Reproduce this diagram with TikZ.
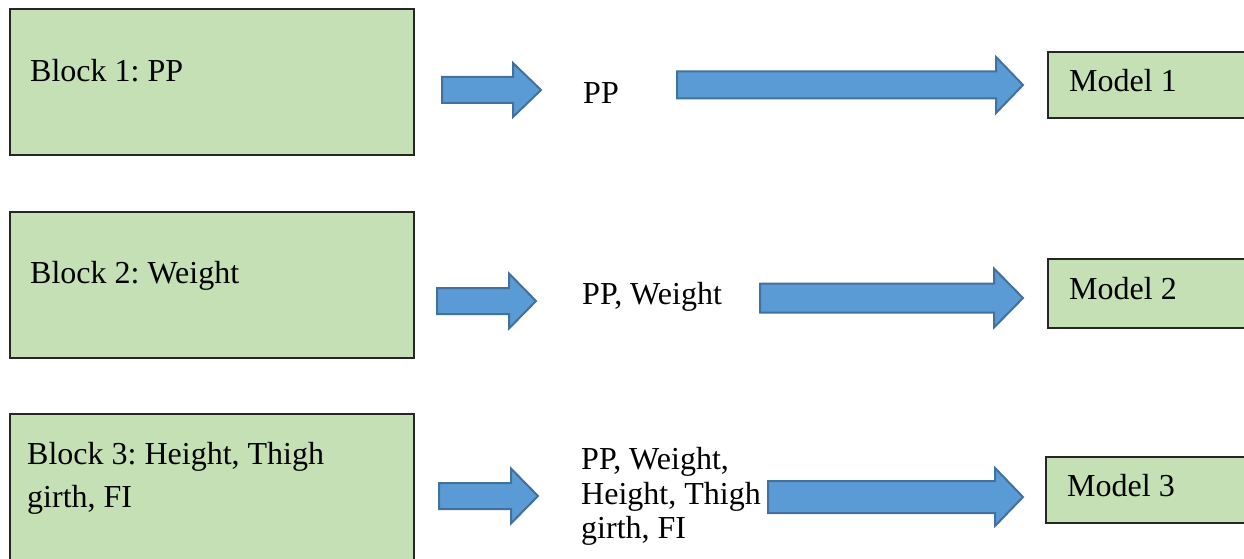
\documentclass[tikz,border=0pt]{standalone}
\usepackage{fontspec}
\setmainfont{Liberation Serif}
\frenchspacing

\definecolor{boxgreen}{HTML}{C5E0B4}
\definecolor{boxline}{HTML}{262626}
\definecolor{arrowfill}{HTML}{5B9BD5}
\definecolor{arrowline}{HTML}{41719C}

\tikzset{
  greenbox/.style={draw=boxline, line width=1.2pt, fill=boxgreen,
    inner sep=0pt, outer sep=0pt, anchor=north west},
  label/.style={inner sep=0pt, anchor=base west,
    font=\rmfamily\fontsize{32pt}{37pt}\selectfont},
  arrowshape/.style={draw=arrowline, line width=2pt, fill=arrowfill,
    line join=miter}
}

% block arrow: left x, tip x, centre y, shaft half-height, head half-height, head length
\newcommand\flatarrow[6]{%
  \draw[arrowshape] (#1,#3-#4) -- (#2-#6,#3-#4) -- (#2-#6,#3-#5) -- (#2,#3)
    -- (#2-#6,#3+#5) -- (#2-#6,#3+#4) -- (#1,#3+#4) -- cycle;}

\begin{document}
\begin{tikzpicture}[x=1pt, y=-1pt]
  \useasboundingbox (0,0) rectangle (1244,559);
  \clip (0,0) rectangle (1244,559);

  % input blocks
  \node[greenbox, minimum width=404pt, minimum height=146pt] (blk1) at (10,9) {};
  \node[greenbox, minimum width=404pt, minimum height=146pt] (blk2) at (10,212) {};
  \node[greenbox, minimum width=404pt, minimum height=170pt] (blk3) at (10,414) {};

  \node[label] (blk1text) at (30,82) {Block 1: PP};
  \node[label] (blk2text) at (30,283) {Block 2: Weight};
  \node[label] (blk3texta) at (27,464) {Block 3: Height, Thigh};
  \node[label] (blk3textb) at (27,507) {girth, FI};

  % model boxes
  \node[greenbox, minimum width=220pt, minimum height=66pt] (mdl1) at (1048,52) {};
  \node[greenbox, minimum width=220pt, minimum height=69pt] (mdl2) at (1048,259) {};
  \node[greenbox, minimum width=220pt, minimum height=66pt] (mdl3) at (1046,457) {};

  \node[label] (mdl1text) at (1069,92) {Model 1};
  \node[label] (mdl2text) at (1069,299) {Model 2};
  \node[label] (mdl3text) at (1067,496) {Model 3};

  % cumulative predictor sets
  \node[label] (set1) at (583,103) {PP};
  \node[label] (set2) at (582,304) {PP, Weight};
  \node[label] (set3a) at (581,469) {PP, Weight,};
  \node[label] (set3b) at (581,504) {Height, Thigh};
  \node[label] (set3c) at (581,538) {girth, FI};

  % block arrows
  \flatarrow{442}{541}{90}{13}{27}{28}
  \flatarrow{677}{1023}{85}{13.5}{28}{27}
  \flatarrow{437}{536}{301}{13}{27.5}{27}
  \flatarrow{760}{1023}{298}{14.5}{29.5}{29}
  \flatarrow{439}{538}{496}{13}{27.5}{27}
  \flatarrow{768}{1023}{497}{16}{29}{28}
\end{tikzpicture}
\end{document}
